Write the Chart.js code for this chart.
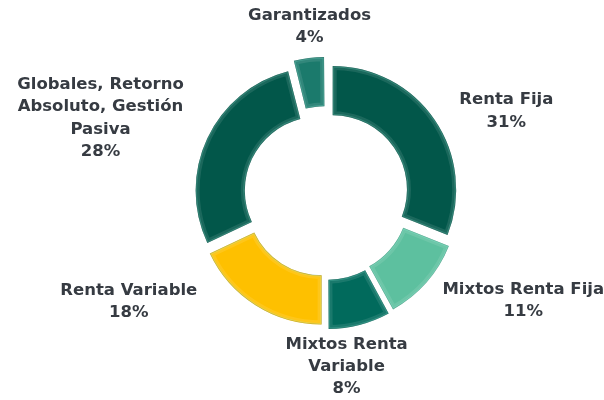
<!DOCTYPE html>
<html>
<head>
<meta charset="utf-8">
<script src="https://cdn.jsdelivr.net/npm/chart.js@4.4.1/dist/chart.umd.min.js"></script>
<style>
  html, body { margin: 0; padding: 0; background: #fff; }
  #wrap { width: 604px; height: 400px; }
</style>
</head>
<body>
<div id="wrap"><canvas id="chart" width="604" height="400"></canvas></div>
<script>
// categories (multi-line as they are wrapped on the picture)
const categories = [
  ['Renta Fija'],
  ['Mixtos Renta Fija'],
  ['Mixtos Renta', 'Variable'],
  ['Renta Variable'],
  ['Globales, Retorno', 'Absoluto, Gestión', 'Pasiva'],
  ['Garantizados']
];
const shares = [31, 11, 8, 18, 28, 4];
const sliceColors = ['#02574a', '#5dc09f', '#016a5c', '#fec000', '#02574a', '#1b7a6c'];

// label nudges from the point just outside each slice (layout only)
const labelNudge = [[72, -9], [99, 20], [-12, 46], [-127, -3], [-107, -20], [0, -37]];

const EXPLODE = 32; // chart.js draws offset / 4 -> 8px

// light bevel on each slice, then the labels
const bevelAndLabels = {
  id: 'bevelAndLabels',
  afterDatasetsDraw(chart) {
    const ctx = chart.ctx;
    const meta = chart.getDatasetMeta(0);
    meta.data.forEach((arc, i) => {
      const p = arc.getProps(['x', 'y', 'startAngle', 'endAngle', 'innerRadius', 'outerRadius', 'circumference'], true);
      const off = EXPLODE / 4;
      const mid = (p.startAngle + p.endAngle) / 2;
      const ro = off * (1 - Math.sin(Math.min(Math.PI, p.circumference)));
      const outR = p.outerRadius + ro;
      const inR = p.innerRadius + ro;
      const alpha = p.endAngle - p.startAngle;
      const beta = Math.max(0.001, alpha * outR - ro / Math.PI) / outR;
      const a0 = p.startAngle + (alpha - beta) / 2;
      const a1 = p.endAngle - (alpha - beta) / 2;

      ctx.save();
      ctx.translate(Math.cos(mid) * off, Math.sin(mid) * off);
      ctx.beginPath();
      ctx.arc(p.x, p.y, outR, a0, a1);
      ctx.arc(p.x, p.y, inR, a1, a0, true);
      ctx.closePath();
      ctx.clip();
      ctx.lineJoin = 'miter';
      ctx.lineWidth = 8;
      ctx.strokeStyle = 'rgba(255,255,255,0.10)';
      ctx.stroke();
      ctx.lineWidth = 3;
      ctx.strokeStyle = 'rgba(150,255,235,0.20)';
      ctx.stroke();
      ctx.lineWidth = 1.2;
      ctx.strokeStyle = 'rgba(0,0,0,0.18)';
      ctx.stroke();
      ctx.restore();

      // label
      const r = p.outerRadius + off;
      const px = p.x + Math.cos(mid) * r + labelNudge[i][0];
      const py = p.y + Math.sin(mid) * r + labelNudge[i][1];
      const lines = categories[i].concat([shares[i] + '%']);
      const lh = 22.3;
      ctx.save();
      ctx.font = 'bold 16.5px "DejaVu Sans"';
      ctx.fillStyle = '#363b42';
      ctx.textAlign = 'center';
      ctx.textBaseline = 'middle';
      lines.forEach((t, k) => {
        ctx.fillText(t, px, py + (k - (lines.length - 1) / 2) * lh);
      });
      ctx.restore();
    });
  }
};

new Chart(document.getElementById('chart'), {
  type: 'doughnut',
  data: {
    labels: categories,
    datasets: [{
      data: shares,
      backgroundColor: sliceColors,
      borderWidth: 0,
      offset: EXPLODE,
      hoverOffset: 0
    }]
  },
  options: {
    responsive: false,
    animation: false,
    radius: 123,
    cutout: '60%',
    layout: { padding: { left: 48, right: 0, top: 0, bottom: 12 } },
    plugins: {
      legend: { display: false },
      tooltip: { enabled: false }
    }
  },
  plugins: [bevelAndLabels]
});
</script>
</body>
</html>
